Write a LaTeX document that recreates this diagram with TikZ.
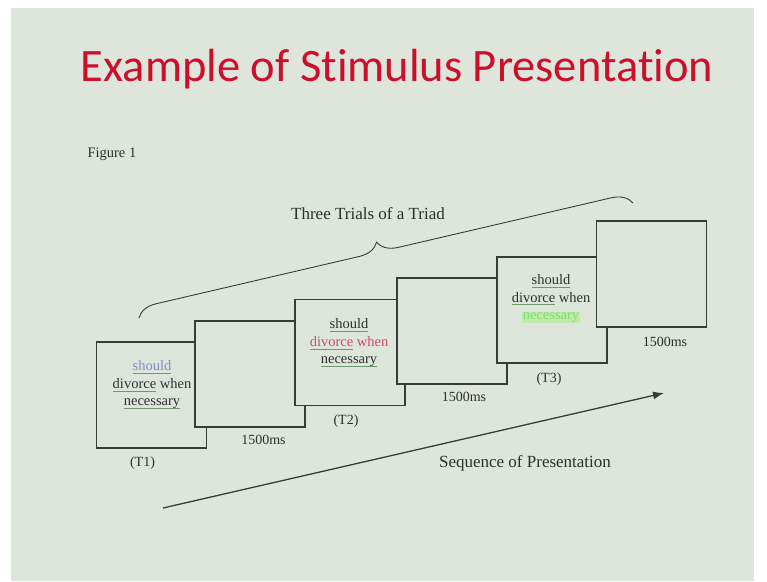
\documentclass[tikz,border=0pt]{standalone}
\usepackage{fontspec}
\usepackage{xcolor}
\usepackage{tikz}
\usetikzlibrary{
  arrows.meta,
  positioning,
  decorations.pathreplacing
}
\setmainfont{Liberation Serif}
\newfontfamily\titlefont[RawFeature=-liga]{Carlito}
\definecolor{stBg}{HTML}{DEE6DC}
\definecolor{stLine}{HTML}{3A3A3A}
\definecolor{stTitle}{HTML}{CC0F2B}
\definecolor{stBlue}{HTML}{7F8CCB}
\definecolor{stPink}{HTML}{D04A66}
\definecolor{stGreen}{HTML}{84DC70}
\definecolor{stHigh}{HTML}{BFEBAA}
\definecolor{stSquig}{HTML}{6E9A6A}
\definecolor{stText}{HTML}{2E2E2E}
% spelling-checker style underline
\newcommand\spellmark[1]{\setbox0\hbox{#1}\rlap{\color{stSquig}\rule[-3pt]{\wd0}{0.7pt}}\box0\relax}

\begin{document}
\begin{tikzpicture}[x=1pt, y=-1pt,
  stimbox/.style={draw=stLine, fill=stBg, line width=1.2pt, rectangle,
    minimum width=110pt, minimum height=106pt, inner sep=0pt},
  wordtext/.style={align=center, text=stText, font=\fontsize{14.5}{17.5}\selectfont},
  durlabel/.style={text=stText, font=\fontsize{14}{16}\selectfont},
  biglabel/.style={text=stText, font=\fontsize{17}{20}\selectfont}]
  \useasboundingbox (0,0) rectangle (767,581);
  \fill[white] (0,0) rectangle (767,581);
  \fill[stBg] (11,8) rectangle (754,581);

  % title
  \node[text=stTitle, font=\titlefont\fontsize{46.5}{52}\selectfont] (title) at (397,69) {Example of Stimulus Presentation};
  \node[durlabel, anchor=west, font=\fontsize{14.5}{16}\selectfont] (figlab) at (84,154) {Figure 1};

  % screens, back to front
  \foreach \n/\cx/\cy in {1/151.5/395, 2/250/374, 3/350/352.5, 4/452/331, 5/552/310, 6/651.5/274}{
    \node[stimbox] (b\n) at (\cx,\cy) {};
  }

  % words on the trial screens
  \node[wordtext] (w1) at (152,385) {\spellmark{\textcolor{stBlue}{should}}\\ \spellmark{divorce} when\\ \spellmark{necessary}};
  \node[wordtext] (w3) at (349,343) {\spellmark{should}\\ \textcolor{stPink}{\spellmark{divorce} when}\\ \spellmark{necessary}};
  \node[wordtext] (w5) at (551,299) {\spellmark{should}\\ \spellmark{divorce} when\\ {\fboxsep=0.6pt\colorbox{stHigh}{\textcolor{stGreen}{necessary}}}};

  % labels under the screens
  \foreach \n/\lx/\ly/\txt in {1/142.5/463/{(T1)}, 2/263.5/440/{1500ms}, 3/346/421/{(T2)},
                              4/464/397/{1500ms}, 5/549/379/{(T3)}, 6/665/342/{1500ms}}{
    \node[durlabel] (lab\n) at (\lx,\ly) {\txt};
  }

  % brace over the three trials
  \coordinate (brS) at (139,318);
  \coordinate (brE) at (633,203);
  \draw[stLine, line width=0.9pt, decorate, decoration={brace, amplitude=20pt, aspect=0.49}] (brS) -- (brE);
  \node[biglabel] (triad) at (368,214) {Three Trials of a Triad};

  % sequence arrow
  \coordinate (seqS) at (163,508);
  \coordinate (seqE) at (664,393);
  \draw[stLine, line width=1.3pt, -{Latex[length=11pt, width=8pt]}] (seqS) -- (seqE);
  \node[biglabel] (seq) at (525,463) {Sequence of Presentation};
\end{tikzpicture}
\end{document}
